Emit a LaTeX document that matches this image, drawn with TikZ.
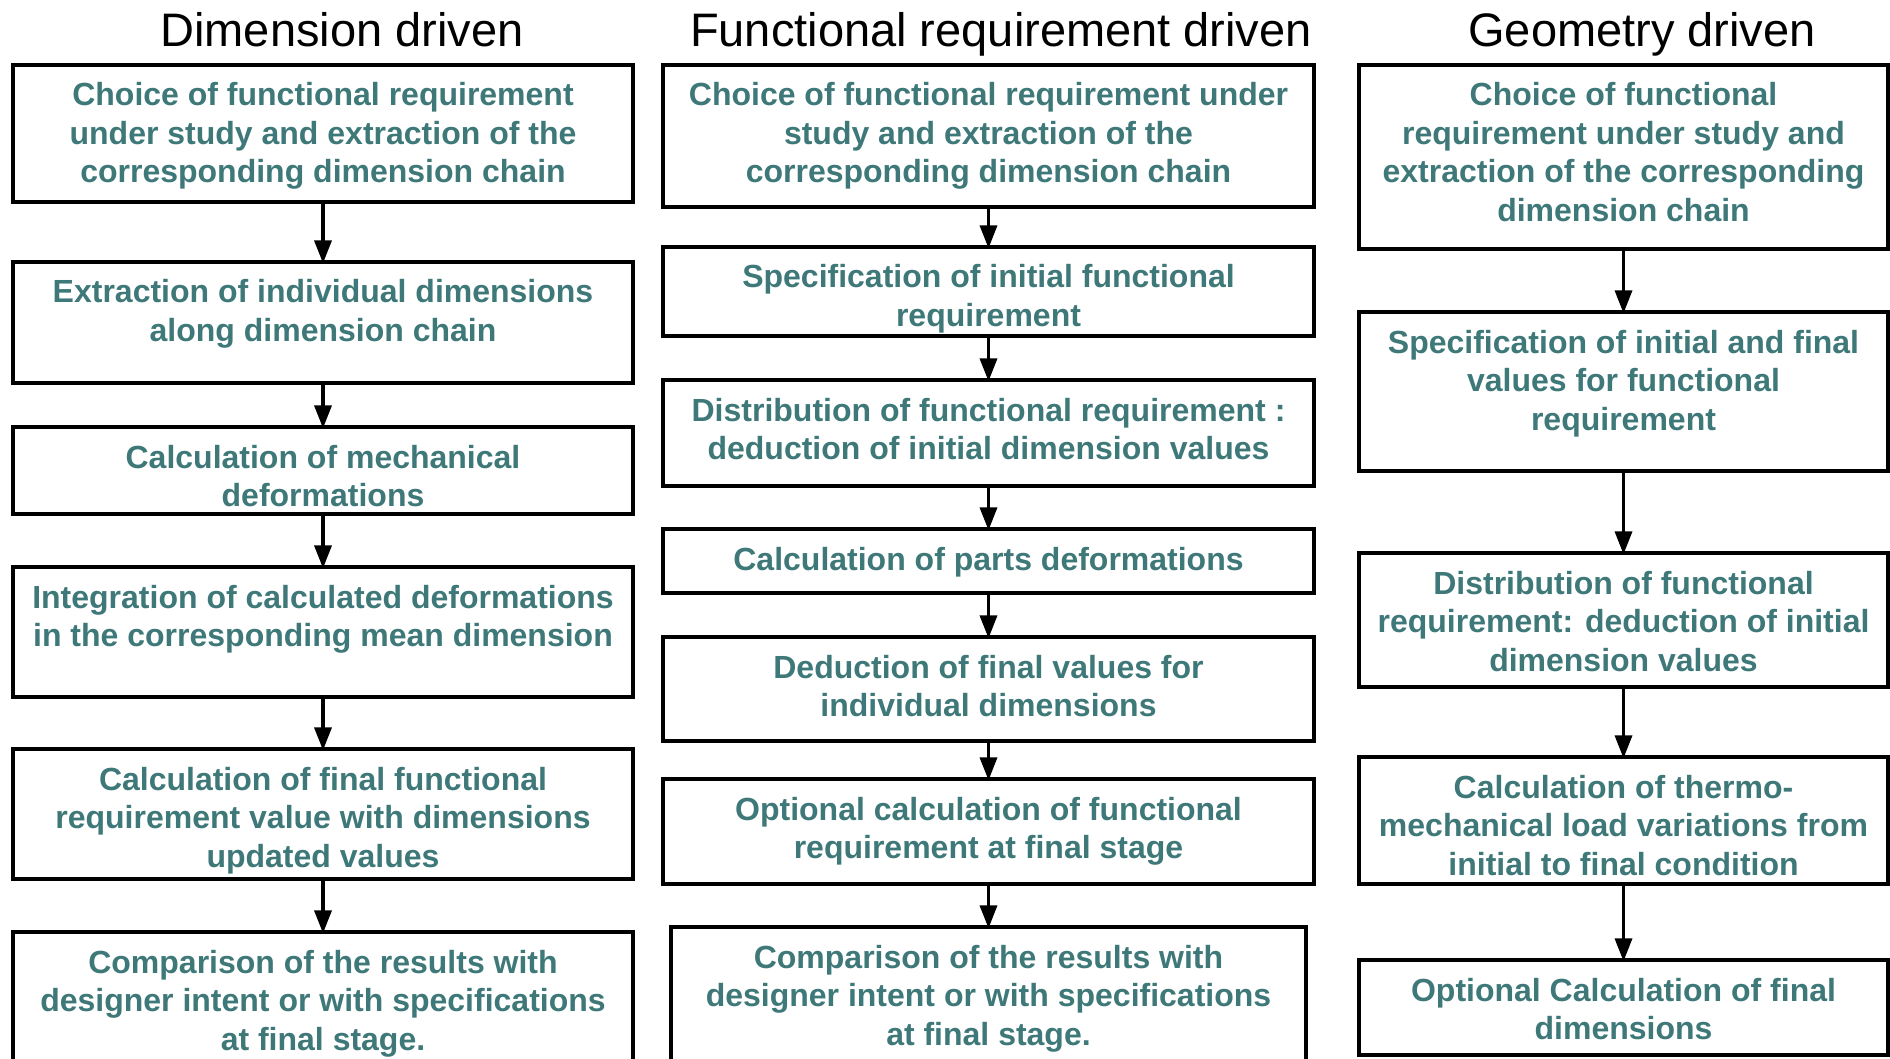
\documentclass[tikz,border=0pt]{standalone}
\usepackage{fontspec}
\setmainfont{Liberation Sans}
\usetikzlibrary{arrows.meta}
\definecolor{tealtext}{RGB}{62,120,120}
% #1 name, #2 left, #3 right, #4 top, #5 bottom, #6 text
\newcommand\flowbox[6]{%
  \node[fbox] (#1) at ({(#2+#3)/2},{(#4+#5)/2})
   {\parbox[c][\dimexpr#5pt-#4pt\relax][t]{\dimexpr#3pt-#2pt\relax}{\centering\rule{0pt}{41pt}#6\par}};}
\begin{document}
\begin{tikzpicture}[x=1pt,y=-1pt,
  fbox/.style={draw, line width=3.3pt, inner sep=0pt, font=\fontsize{32}{38.5}\selectfont\bfseries, text=tealtext},
  arr/.style={line width=3.5pt, -{Triangle[length=23pt,width=17pt]}, shorten >=-3pt},
  ttl/.style={font=\fontsize{47}{50}\selectfont, anchor=base, inner sep=0pt}]
\useasboundingbox (0,0) rectangle (1890,1059);
\clip (0,0) rectangle (1890,1059);
\fill[white] (0,0) rectangle (1890,1059);
% titles
\node[ttl] (t1) at (342,47) {Dimension driven};
\node[ttl] (t2) at (1001,47) {Functional requirement driven};
\node[ttl] (t3) at (1642,47) {Geometry driven};
% column 1
\flowbox{c1a}{13}{633}{65}{202}{Choice of functional requirement\\under study and extraction of the\\corresponding dimension chain}
\flowbox{c1b}{13}{633}{262}{383}{Extraction of individual dimensions\\along dimension chain}
\flowbox{c1c}{13}{633}{427}{514}{Calculation of mechanical\\deformations}
\flowbox{c1d}{13}{633}{567}{697}{Integration of calculated deformations\\in the corresponding mean dimension}
\flowbox{c1e}{13}{633}{749}{879}{Calculation of final functional\\requirement value with dimensions\\updated values}
\flowbox{c1f}{13}{633}{932}{1080}{Comparison of the results with\\designer intent or with specifications\\at final stage.}
% column 2
\flowbox{c2a}{663}{1314}{65}{207}{Choice of functional requirement under\\study and extraction of the\\corresponding dimension chain}
\flowbox{c2b}{663}{1314}{247}{336}{Specification of initial functional\\requirement}
\flowbox{c2c}{663}{1314}{380}{486}{Distribution of functional requirement :\\deduction of initial dimension values}
\flowbox{c2d}{663}{1314}{529}{593}{Calculation of parts deformations}
\flowbox{c2e}{663}{1314}{637}{741}{Deduction of final values for\\individual dimensions}
\flowbox{c2f}{663}{1314}{779}{884}{Optional calculation of functional\\requirement at final stage}
\flowbox{c2g}{671}{1306}{927}{1080}{Comparison of the results with\\designer intent or with specifications\\at final stage.}
% column 3
\flowbox{c3a}{1359}{1888}{65}{249}{Choice of functional\\requirement under study and\\extraction of the corresponding\\dimension chain}
\flowbox{c3b}{1359}{1888}{312}{471}{Specification of initial and final\\values for functional\\requirement}
\flowbox{c3c}{1359}{1888}{553}{687}{Distribution of functional\\requirement: deduction of initial\\dimension values}
\flowbox{c3d}{1359}{1888}{757}{884}{Calculation of thermo-\\mechanical load variations from\\initial to final condition}
\flowbox{c3e}{1359}{1888}{960}{1055}{Optional Calculation of final\\dimensions}
% arrows
\draw[arr] (c1a.south) -- (c1b.north);
\draw[arr] (c1b.south) -- (c1c.north);
\draw[arr] (c1c.south) -- (c1d.north);
\draw[arr] (c1d.south) -- (c1e.north);
\draw[arr] (c1e.south) -- (c1f.north);
\draw[arr] (c2a.south) -- (c2b.north);
\draw[arr] (c2b.south) -- (c2c.north);
\draw[arr] (c2c.south) -- (c2d.north);
\draw[arr] (c2d.south) -- (c2e.north);
\draw[arr] (c2e.south) -- (c2f.north);
\draw[arr] (c2f.south) -- (c2g.north);
\draw[arr] (c3a.south) -- (c3b.north);
\draw[arr] (c3b.south) -- (c3c.north);
\draw[arr] (c3c.south) -- (c3d.north);
\draw[arr] (c3d.south) -- (c3e.north);
\end{tikzpicture}
\end{document}
